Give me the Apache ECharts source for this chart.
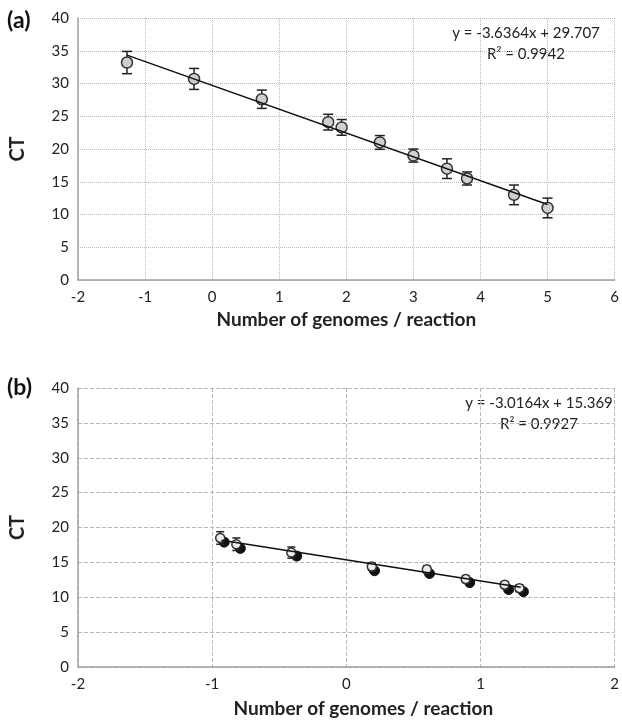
<!DOCTYPE html>
<html>
<head>
<meta charset="utf-8">
<script src="https://cdn.jsdelivr.net/npm/echarts@6/dist/echarts.min.js"></script>
<style>
  html, body { margin: 0; padding: 0; background: #fff; }
  #main { width: 622px; height: 720px; }
</style>
</head>
<body>
<div id="main"></div>
<script>
// panel (a): one standard curve
var xA = [-1.27, -0.27, 0.74, 1.73, 1.93, 2.5, 3.0, 3.5, 3.8, 4.5, 5.0];
var ctA = [33.2, 30.7, 27.6, 24.1, 23.3, 21.0, 19.0, 17.0, 15.5, 13.0, 11.0];
var errA = [1.7, 1.6, 1.4, 1.2, 1.2, 1.05, 1.0, 1.5, 1.0, 1.5, 1.5];
var trendA = [[-1.27, 34.33], [5.0, 11.53]];
var eqA = ['y = -3.6364x + 29.707', 'R² = 0.9942'];

// panel (b): open circles with error bars + filled circles
var xBopen = [-0.94, -0.82, -0.41, 0.19, 0.6, 0.89, 1.18, 1.29];
var ctBopen = [18.5, 17.6, 16.4, 14.4, 14.0, 12.6, 11.8, 11.3];
var errBopen = [0.9, 0.9, 0.8, 0.55, 0.5, 0.5, 0.4, 0.5];
var xBfill = [-0.91, -0.79, -0.37, 0.21, 0.62, 0.92, 1.21, 1.32];
var ctBfill = [17.9, 17.0, 15.9, 13.8, 13.4, 12.1, 11.1, 10.8];
var trendB = [[-0.93, 18.17], [1.3, 11.45]];
var eqB = ['y = -3.0164x + 15.369', 'R² = 0.9927'];

var FONT = 'Lato';
var chart = echarts.init(document.getElementById('main'));

function pairs(xs, ys, es) {
  return xs.map(function (x, i) { return es ? [x, ys[i], es[i]] : [x, ys[i]]; });
}

function errorBars(cap) {
  return function (params, api) {
    var x = api.value(0), y = api.value(1), e = api.value(2);
    var top = api.coord([x, y + e]);
    var bot = api.coord([x, y - e]);
    var st = { stroke: '#222', lineWidth: 1.5 };
    return {
      type: 'group',
      children: [
        { type: 'line', shape: { x1: top[0], y1: top[1], x2: bot[0], y2: bot[1] }, style: st },
        { type: 'line', shape: { x1: top[0] - cap, y1: top[1], x2: top[0] + cap, y2: top[1] }, style: st },
        { type: 'line', shape: { x1: bot[0] - cap, y1: bot[1], x2: bot[0] + cap, y2: bot[1] }, style: st }
      ]
    };
  };
}

function xAxisCfg(idx, min, max, gridType, gap, shift) {
  return {
    type: 'value', gridIndex: idx, min: min, max: max, interval: 1,
    name: 'Number of genomes / reaction', nameLocation: 'middle', nameGap: gap,
    nameTextStyle: { fontFamily: FONT, fontSize: 19, fontWeight: 'bold', color: '#222',
      padding: [0, 0, 0, shift] },
    axisLine: { onZero: false, lineStyle: { color: '#a0a0a0', width: 1.5 } },
    axisTick: { show: false },
    axisLabel: { fontFamily: FONT, fontSize: 15, color: '#222', margin: 10 },
    splitLine: { show: true, lineStyle: { color: '#b8b8b8', type: gridType, width: 1 } }
  };
}

function yAxisCfg(idx, gridType) {
  return {
    type: 'value', gridIndex: idx, min: 0, max: 40, interval: 5,
    name: 'CT', nameLocation: 'middle', nameGap: 50,
    nameTextStyle: { fontFamily: FONT, fontSize: 20, fontWeight: 'bold', color: '#222' },
    axisLine: { show: true, onZero: false, lineStyle: { color: '#a0a0a0', width: 1.5 } },
    axisTick: { show: false },
    axisLabel: { fontFamily: FONT, fontSize: 15, color: '#222', margin: 9 },
    splitLine: { show: true, lineStyle: { color: '#b8b8b8', type: gridType, width: 1 } }
  };
}

function eqText(lines, cx, y) {
  return {
    type: 'text', x: cx, y: y,
    style: {
      text: lines.join('\n'), fontFamily: FONT, fontSize: 15, fill: '#222',
      textAlign: 'center', textVerticalAlign: 'top', lineHeight: 21
    }
  };
}

chart.setOption({
  animation: false,
  grid: [
    { left: 78, top: 18, width: 538, height: 262 },
    { left: 77, top: 388, width: 547, height: 279 }
  ],
  xAxis: [xAxisCfg(0, -2, 6, 'dotted', 30, 0), xAxisCfg(1, -2, 2, 'dashed', 32, 34)],
  yAxis: [yAxisCfg(0, 'dotted'), yAxisCfg(1, 'dashed')],
  graphic: [
    { type: 'text', left: 7, top: 9, style: { text: '(a)', fontFamily: FONT, fontSize: 23, fontWeight: 'bold', fill: '#111' } },
    { type: 'text', left: 7, top: 376, style: { text: '(b)', fontFamily: FONT, fontSize: 23, fontWeight: 'bold', fill: '#111' } },
    eqText(eqA, 526, 23),
    eqText(eqB, 539, 393)
  ],
  series: [
    {
      type: 'custom', xAxisIndex: 0, yAxisIndex: 0, z: 2,
      renderItem: errorBars(5), data: pairs(xA, ctA, errA)
    },
    {
      type: 'scatter', xAxisIndex: 0, yAxisIndex: 0, z: 3,
      symbol: 'circle', symbolSize: 11,
      itemStyle: { color: '#cfcfcf', borderColor: '#333', borderWidth: 1.5, opacity: 1 },
      data: pairs(xA, ctA)
    },
    {
      type: 'line', xAxisIndex: 0, yAxisIndex: 0, z: 4,
      symbol: 'none', lineStyle: { color: '#111', width: 1.5 },
      data: trendA
    },
    {
      type: 'scatter', xAxisIndex: 1, yAxisIndex: 1, z: 2,
      symbol: 'circle', symbolSize: 10,
      itemStyle: { color: '#111', borderColor: '#111', borderWidth: 1, opacity: 1 },
      data: pairs(xBfill, ctBfill)
    },
    {
      type: 'custom', xAxisIndex: 1, yAxisIndex: 1, z: 3,
      renderItem: errorBars(4), data: pairs(xBopen, ctBopen, errBopen)
    },
    {
      type: 'scatter', xAxisIndex: 1, yAxisIndex: 1, z: 4,
      symbol: 'circle', symbolSize: 9,
      itemStyle: { color: '#ececec', borderColor: '#333', borderWidth: 1.5, opacity: 1 },
      data: pairs(xBopen, ctBopen)
    },
    {
      type: 'line', xAxisIndex: 1, yAxisIndex: 1, z: 5,
      symbol: 'none', lineStyle: { color: '#111', width: 1.5 },
      data: trendB
    }
  ]
});
</script>
</body>
</html>
